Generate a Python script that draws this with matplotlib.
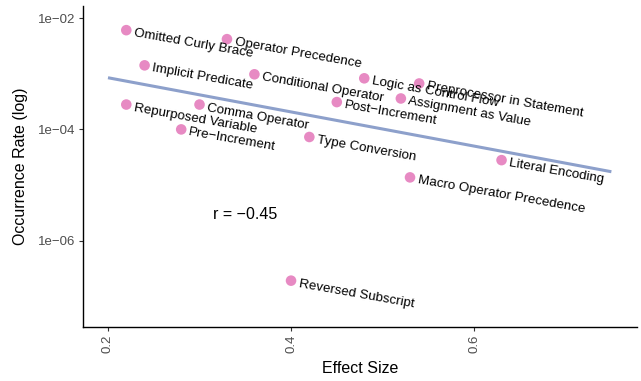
import numpy as np
import matplotlib
matplotlib.use("Agg")
import matplotlib.pyplot as plt

plt.rcParams['font.family'] = ['Liberation Sans', 'DejaVu Sans']

names = ["Omitted Curly Brace", "Operator Precedence", "Implicit Predicate",
         "Conditional Operator", "Logic as Control Flow", "Preprocessor in Statement",
         "Assignment as Value", "Post\u2212Increment", "Repurposed Variable",
         "Comma Operator", "Pre\u2212Increment", "Type Conversion",
         "Literal Encoding", "Macro Operator Precedence", "Reversed Subscript"]
effect = [0.22, 0.33, 0.24, 0.36, 0.48, 0.54, 0.52, 0.45, 0.22, 0.30, 0.28, 0.42,
          0.63, 0.53, 0.40]
rate = [6.1e-3, 4.2e-3, 1.42e-3, 9.8e-4, 8.3e-4, 6.7e-4, 3.6e-4, 3.1e-4, 2.8e-4,
        2.8e-4, 1.0e-4, 7.3e-5, 2.8e-5, 1.37e-5, 1.9e-7]
fit_range = [0.2, 0.75]
yticks = [1e-2, 1e-4, 1e-6]
ytick_labels = ["1e\u221202", "1e\u221204", "1e\u221206"]
xticks = [0.2, 0.4, 0.6]
annotation = "r = \u22120.45"

fig = plt.figure(figsize=(6.41, 3.81), dpi=100)
ax = fig.add_axes([83/641, 1-327/381, (637-83)/641, (327-6)/381])

x = np.array(effect)
ly = np.log10(rate)
slope, icpt = np.polyfit(x, ly, 1)
xf = np.linspace(fit_range[0], fit_range[1], 50)
ax.plot(xf, 10**(icpt + slope*xf), color='#8DA0CB', lw=2.2, zorder=2, solid_capstyle='butt')

ax.scatter(x, rate, s=58, color='#E78AC3', edgecolors='none', zorder=3)
for xi, yi, nm in zip(x, rate, names):
    ax.annotate(nm, (xi, yi), xytext=(5.5, -2.2), textcoords='offset points',
                ha='left', va='center', rotation=-10, rotation_mode='anchor',
                fontsize=9.6, color='black', zorder=4)

ax.text(0.35, 10**-5.54, annotation, ha='center', va='center', fontsize=11.5)

ax.set_yscale('log')
ax.set_xlim(0.1727, 0.778)
ax.set_ylim(10**-7.555, 10**-1.78)
ax.set_yticks(yticks)
ax.set_yticklabels(ytick_labels)
ax.yaxis.set_minor_locator(matplotlib.ticker.NullLocator())
ax.set_xticks(xticks)
ax.set_xticklabels([str(t) for t in xticks], rotation=90)
ax.tick_params(axis='both', length=3, width=0.8, colors='#333333', labelcolor='#4D4D4D',
               labelsize=9.5, pad=2.5)
for s in ['top', 'right']:
    ax.spines[s].set_visible(False)
for s in ['left', 'bottom']:
    ax.spines[s].set_linewidth(1.0)
    ax.spines[s].set_color('black')
ax.set_xlabel("Effect Size", fontsize=11.5, labelpad=6)
ax.set_ylabel("Occurrence Rate (log)", fontsize=11.5, labelpad=7)

fig.savefig("out.png", dpi=100)
